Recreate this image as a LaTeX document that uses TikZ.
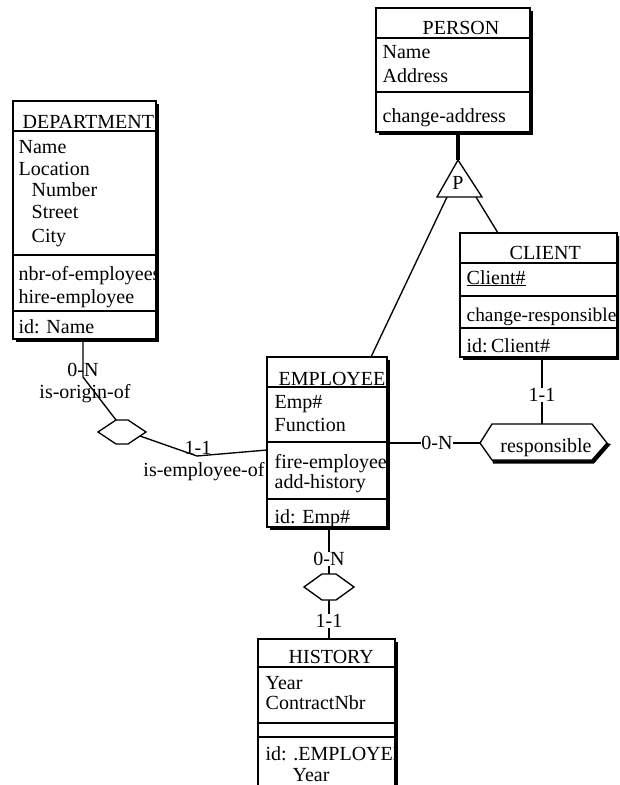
\documentclass[tikz,border=0pt]{standalone}
\usepackage{fontspec}
\setmainfont{Liberation Serif}
\usetikzlibrary{shadows}
\begin{document}
\begin{tikzpicture}[x=1pt,y=-1pt,line width=1.35pt,
  font=\fontsize{20}{21}\selectfont,
  ent/.style={draw,fill=white,inner sep=0pt,outer sep=0pt,anchor=north west,
    drop shadow={fill=black,opacity=1,shadow xshift=3pt,shadow yshift=-3pt}},
  txt/.style={anchor=base west,inner sep=0pt},
  lbl/.style={inner sep=0.5pt},
  wlbl/.style={inner sep=0.5pt,fill=white},
  sep/.style={line width=1.35pt}]
\useasboundingbox (0,0) rectangle (619,785);
\clip (0,0) rectangle (619,785);

% ---------------- entity boxes ----------------
\node[ent,minimum width=154pt,minimum height=124pt] (person) at (376,8) {};
\node[ent,minimum width=143pt,minimum height=238pt] (dept) at (13,101) {};
\node[ent,minimum width=157pt,minimum height=124pt] (client) at (460,233) {};
\node[ent,minimum width=120pt,minimum height=170pt] (emp) at (267,357) {};
\node[ent,minimum width=137pt,minimum height=155pt] (hist) at (258,639) {};

% separators
\draw[sep] (person.west |- 0,38) -- (person.east |- 0,38);
\draw[sep] (person.west |- 0,92) -- (person.east |- 0,92);
\draw[sep] (dept.west |- 0,131) -- (dept.east |- 0,131);
\draw[sep] (dept.west |- 0,255) -- (dept.east |- 0,255);
\draw[sep] (dept.west |- 0,311) -- (dept.east |- 0,311);
\draw[sep] (client.west |- 0,263) -- (client.east |- 0,263);
\draw[sep] (client.west |- 0,296) -- (client.east |- 0,296);
\draw[sep] (client.west |- 0,328) -- (client.east |- 0,328);
\draw[sep] (emp.west |- 0,387) -- (emp.east |- 0,387);
\draw[sep] (emp.west |- 0,442) -- (emp.east |- 0,442);
\draw[sep] (emp.west |- 0,499) -- (emp.east |- 0,499);
\draw[sep] (hist.west |- 0,667) -- (hist.east |- 0,667);
\draw[sep] (hist.west |- 0,723) -- (hist.east |- 0,723);
\draw[sep] (hist.west |- 0,737) -- (hist.east |- 0,737);

% ---------------- texts ----------------
\node[txt] (tperson) at (422,34) {PERSON};
\node[txt] (pa1) at (382,58) {Name};
\node[txt] (pa2) at (382,82) {Address};
\node[txt] (pm1) at (382,122) {change-address};

\begin{scope}
\clip (13,101) rectangle (156,339);
\node[txt] (tdept) at (22,128) {DEPARTMENT};
\node[txt] (da1) at (18,153) {Name};
\node[txt] (da2) at (18,175) {Location};
\node[txt] (da3) at (31,196) {Number};
\node[txt] (da4) at (31,218) {Street};
\node[txt] (da5) at (31,242) {City};
\node[txt] (dm1) at (18,280) {nbr-of-employees};
\node[txt] (dm2) at (18,303) {hire-employee};
\node[txt] (did) at (18,333) {id: Name};
\end{scope}

\begin{scope}
\clip (460,233) rectangle (617,357);
\node[txt] (tclient) at (509,259) {CLIENT};
\node[txt] (ca1) at (466,284) {\underline{Client\#}};
\node[txt,font=\fontsize{19.4}{21}\selectfont] (cm1) at (466,321) {change-responsible};
\node[txt] (cid) at (466,352) {id:\,Client\#};
\end{scope}

\begin{scope}
\clip (267,357) rectangle (387,527);
\node[txt] (temp) at (278,385) {EMPLOYEE};
\node[txt] (ea1) at (274,408) {Emp\#};
\node[txt] (ea2) at (274,431) {Function};
\node[txt] (em1) at (274,468) {fire-employee};
\node[txt] (em2) at (274,488) {add-history};
\node[txt] (eid) at (274,523) {id: Emp\#};
\end{scope}

\begin{scope}
\clip (258,639) rectangle (395,790);
\node[txt] (thist) at (288,663) {HISTORY};
\node[txt] (ha1) at (265,689) {Year};
\node[txt] (ha2) at (265,709) {ContractNbr};
\node[txt] (hid1) at (265,760) {id: .EMPLOYEE};
\node[txt] (hid2) at (292,781) {Year};
\end{scope}

% ---------------- ISA (partition) ----------------
\coordinate (isaT) at (458,160);
\coordinate (isaL) at (437,197);
\coordinate (isaR) at (482,197);
\draw[line width=4pt] (person.south -| isaT) -- (isaT);
\draw (isaT) -- (isaR) -- (isaL) -- cycle;
\node[anchor=base,inner sep=0pt] (isaP) at (458,189) {P};
\draw (447,197) -- ([xshift=104pt]emp.north west);
\draw (476,197) -- ([xshift=38pt]client.north west);

% ---------------- is-employee-of ----------------
\coordinate (r1) at (122,432);
\coordinate (dbend) at (83,377);
\coordinate (ebend) at (197,456);
\draw[fill=white] ([shift={(-24,0)}]r1) -- ([shift={(-6,-12)}]r1) -- ([shift={(6,-12)}]r1)
  -- ([shift={(24,0)}]r1) -- ([shift={(6,12)}]r1) -- ([shift={(-6,12)}]r1) -- cycle;
\draw (dept.south -| dbend) -- (dbend) -- ([shift={(-6,-12)}]r1);
\draw ([shift={(18,4)}]r1) -- (ebend) -- ([yshift=-8pt]emp.west);
\node[lbl] (l1) at (83,370) {0-N};
\node[lbl] (l2) at (85,394) {is-origin-of};
\node[lbl] (l3) at (198,448) {1-1};
\node[lbl] (l4) at (204,472) {is-employee-of};

% ---------------- history link ----------------
\coordinate (r2) at (329,587);
\draw (emp.south -| r2) -- ([yshift=13pt]r2);
\draw ([yshift=-13pt]r2) -- (hist.north -| r2);
\draw[fill=white] ([shift={(-25,0)}]r2) -- ([shift={(-7,-13)}]r2) -- ([shift={(7,-13)}]r2)
  -- ([shift={(25,0)}]r2) -- ([shift={(7,13)}]r2) -- ([shift={(-7,13)}]r2) -- cycle;
\node[wlbl] (l5) at (329,559) {0-N};
\node[wlbl] (l6) at (329,621) {1-1};

% ---------------- responsible ----------------
\coordinate (resp) at (543,443);
\fill ([shift={(-51,17)}]resp) -- ([shift={(49,17)}]resp) -- ([shift={(64,0)}]resp)
  -- ([shift={(68,1)}]resp) -- ([shift={(51,20.5)}]resp) -- ([shift={(-50,20.5)}]resp) -- cycle;
\draw[fill=white] ([shift={(-63,0)}]resp) -- ([shift={(-51,-19)}]resp) -- ([shift={(49,-19)}]resp)
  -- ([shift={(64,0)}]resp) -- ([shift={(49,17)}]resp) -- ([shift={(-51,17)}]resp) -- cycle;
\node[anchor=base,inner sep=0pt] (tresp) at (546,452) {responsible};
\draw (emp.east |- resp) -- ([shift={(-63,0)}]resp);
\draw (client.south -| 542,0) -- (542,424);
\node[wlbl] (l7) at (437,443) {0-N};
\node[wlbl] (l8) at (542,395) {1-1};
\end{tikzpicture}
\end{document}
